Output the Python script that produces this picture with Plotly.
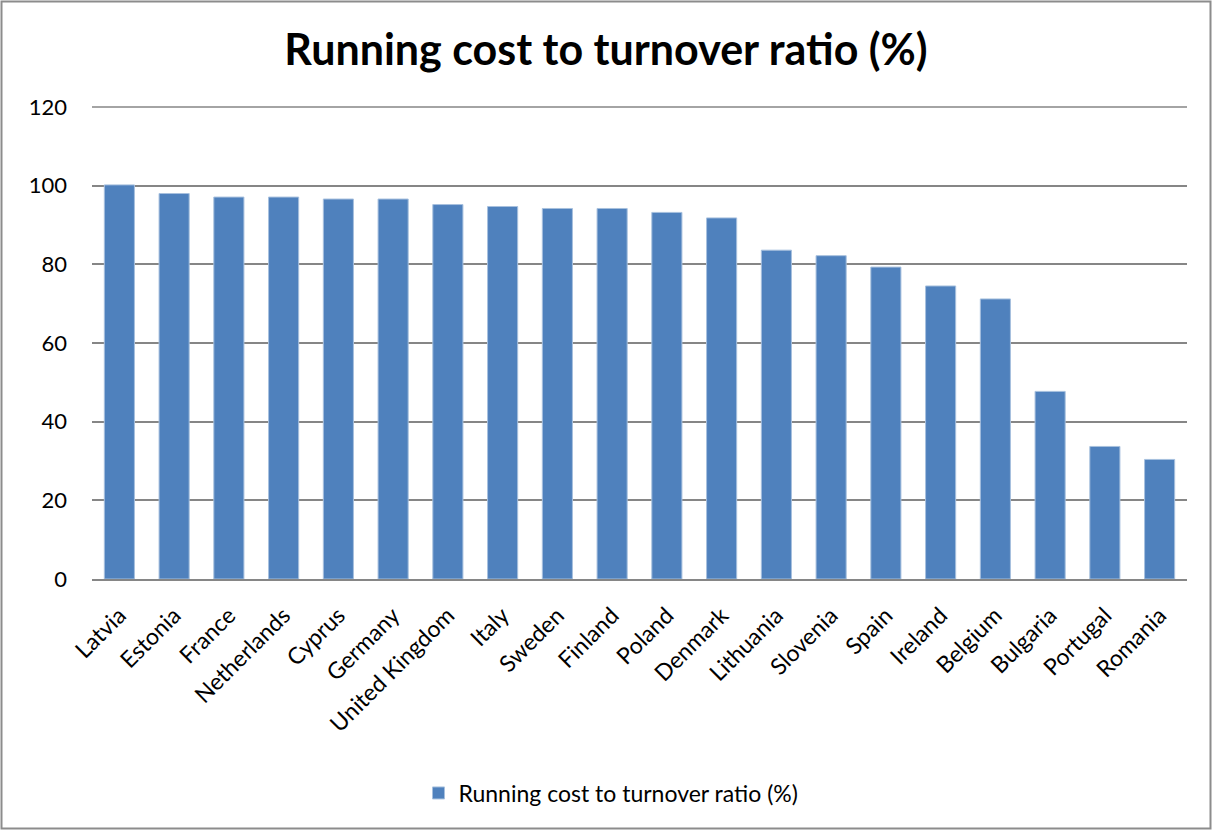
import plotly.graph_objects as go

countries = ["Latvia", "Estonia", "France", "Netherlands", "Cyprus", "Germany",
             "United Kingdom", "Italy", "Sweden", "Finland", "Poland", "Denmark",
             "Lithuania", "Slovenia", "Spain", "Ireland", "Belgium", "Bulgaria",
             "Portugal", "Romania"]
ratio = [100.2, 98.0, 97.1, 97.1, 96.6, 96.6, 95.2, 94.7, 94.2, 94.2, 93.2, 91.8,
         83.6, 82.2, 79.3, 74.5, 71.2, 47.7, 33.7, 30.4]
y_ticks = [0, 20, 40, 60, 80, 100, 120]

series_name = "Running cost to turnover ratio (%)"
W, H = 1212, 830
ML, MR, MT, MB = 92, 25, 107, 251
pw, ph = W - ML - MR, H - MT - MB
grid_col = "#868686"

fig = go.Figure(go.Bar(
    x=countries, y=ratio, name=series_name,
    marker=dict(color="#4F81BD", line=dict(color="#A7C0DE", width=1)),
    showlegend=True,
))

font = "Lato, 'Open Sans', sans-serif"
fig.update_layout(
    width=W, height=H,
    margin=dict(l=ML, r=MR, t=MT, b=MB),
    paper_bgcolor="white", plot_bgcolor="white",
    font=dict(family=font, color="black"),
    bargap=0.45,
    title=dict(text="<b>" + series_name + "</b>", x=0.5, xanchor="center",
               y=1 - 50 / H, yanchor="middle", font=dict(size=43, family=font)),
    xaxis=dict(tickangle=-45, tickfont=dict(size=23), showline=True,
               linecolor=grid_col, linewidth=2, ticks="", showgrid=False,
               ticklabelstandoff=12),
    yaxis=dict(range=[0, y_ticks[-1]], tickvals=y_ticks, tickfont=dict(size=22),
               showgrid=True, gridcolor=grid_col, gridwidth=1.5,
               zeroline=False, showline=False, ticks="", ticklabelstandoff=24),
    legend=dict(orientation="h", x=(611 - ML) / pw, xanchor="center",
                y=-(793 - (MT + ph)) / ph, yanchor="middle",
                font=dict(size=23)),
    shapes=[
        # top gridline sits on the upper edge of the plot area, draw it unclipped
        dict(type="line", xref="paper", yref="paper", x0=0, x1=1, y0=1, y1=1,
             line=dict(color=grid_col, width=1.5), layer="below"),
        # chart-area border
        dict(type="rect", xref="paper", yref="paper",
             x0=(1.5 - ML) / pw, x1=(W - 1.5 - ML) / pw,
             y0=1 - (H - 1.5 - MT) / ph, y1=1 + (MT - 1.5) / ph,
             line=dict(color="#8C8C8C", width=2), layer="below"),
    ],
)

fig.write_html("out.html")
